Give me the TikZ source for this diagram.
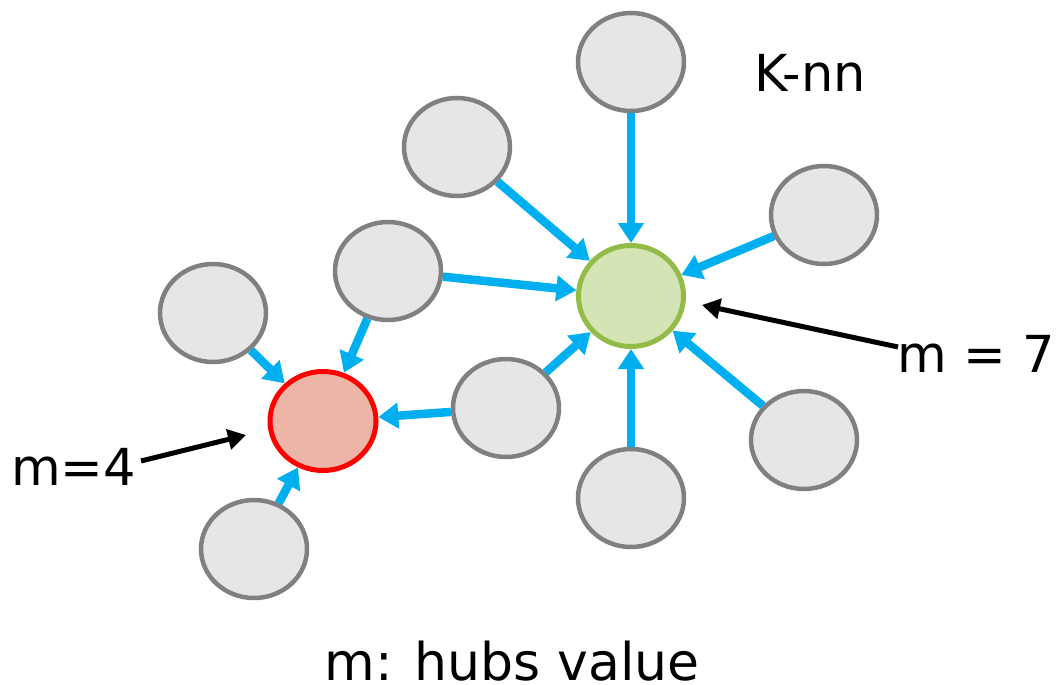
\documentclass[tikz,border=0pt]{standalone}
\usepackage{fontspec}
\setmainfont{DejaVu Sans}
\usetikzlibrary{shapes.geometric,arrows.meta}
\definecolor{nodegray}{HTML}{E6E6E6}
\definecolor{edgegray}{HTML}{808080}
\definecolor{hubgreen}{HTML}{D5E4B5}
\definecolor{hubgreenline}{HTML}{93BB48}
\definecolor{hubred}{HTML}{ECB5A8}
\definecolor{arrowblue}{HTML}{00AFEF}
\tikzset{
  plain/.style={ellipse, draw=edgegray, fill=nodegray, line width=4.5pt, minimum width=106pt, minimum height=98pt, inner sep=0pt},
  greenhub/.style={ellipse, draw=hubgreenline, fill=hubgreen, line width=5pt, minimum width=105pt, minimum height=101pt, inner sep=0pt},
  redhub/.style={ellipse, draw=red, fill=hubred, line width=5pt, minimum width=106pt, minimum height=99pt, inner sep=0pt},
  link/.style={draw=arrowblue, line width=8.5pt, -{Triangle[length=20pt,width=25pt]}, arrowblue},
  pointer/.style={draw=black, line width=5pt, -{Triangle[length=18pt,width=20pt]}},
  lbl/.style={font=\fontsize{51pt}{60pt}\selectfont, inner sep=0pt}
}
\begin{document}
\begin{tikzpicture}[x=1pt,y=-1pt]
\useasboundingbox (0,0) rectangle (1063,685);
\node[plain] (top) at (631,62) {};
\node[plain] (n2) at (457,147) {};
\node[plain] (n3) at (824,215) {};
\node[greenhub] (green) at (631,296) {};
\node[plain] (n4) at (388,271) {};
\node[plain] (n5) at (213,313) {};
\node[redhub] (red) at (323,421) {};
\node[plain] (n6) at (506,408) {};
\node[plain] (n7) at (804,440) {};
\node[plain] (n8) at (631,498) {};
\node[plain] (n9) at (254,549) {};

\draw[link] (top) -- (green);
\draw[link] (n2) -- (green);
\draw[link] (n3) -- (green);
\draw[link] (n4) -- (green);
\draw[link] (n6) -- (green);
\draw[link] (n7) -- (green);
\draw[link] (n8) -- (green);
\draw[link] (n5) -- (red);
\draw[link] (n4) -- (red);
\draw[link] (n6) -- (red);
\draw[link] (n9) -- (red);

\node[lbl, anchor=base] (knn) at (810,92) {K-nn};
\node[lbl, anchor=base west] (m4) at (11,485) {m=4};
\node[lbl, anchor=base west] (m7) at (897,372) {m = 7};
\node[lbl, anchor=base, font=\fontsize{52pt}{60pt}\selectfont] (hubs) at (512,680) {m: hubs value};

\coordinate (m4start) at (141,461);
\coordinate (m4tip) at (246,435);
\coordinate (m7start) at (898,347);
\coordinate (m7tip) at (702,305);
\draw[pointer] (m4start) -- (m4tip);
\draw[pointer] (m7start) -- (m7tip);
\end{tikzpicture}
\end{document}
